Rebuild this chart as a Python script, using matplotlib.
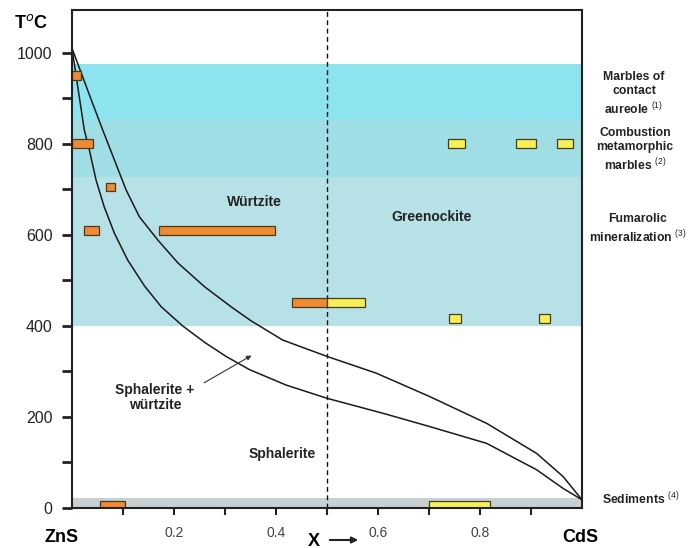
import matplotlib
matplotlib.use("Agg")
import matplotlib.pyplot as plt

plt.rcParams["font.family"] = ["Liberation Sans", "DejaVu Sans"]
plt.rcParams["mathtext.fontset"] = "custom"
plt.rcParams["mathtext.rm"] = "Liberation Sans"

# phase boundaries (X = CdS fraction, T in deg C)
upper_x = [0.0, 0.02, 0.04, 0.06, 0.083, 0.106, 0.132, 0.168, 0.208, 0.26, 0.312, 0.35,
           0.413, 0.5, 0.597, 0.701, 0.813, 0.911, 0.963, 1.0]
upper_t = [1010, 950, 890, 831, 765, 699, 640, 589, 538, 486, 442, 412,
           369, 333, 296, 245, 186, 120, 69, 18]
lower_x = [0.0, 0.01, 0.024, 0.034, 0.047, 0.063, 0.083, 0.109, 0.142, 0.175, 0.217, 0.26,
           0.302, 0.348, 0.42, 0.5, 0.61, 0.701, 0.813, 0.911, 0.963, 1.0]
lower_t = [1010, 935, 831, 787, 721, 662, 604, 545, 488, 442, 400, 364,
           333, 304, 270, 241, 208, 179, 142, 84, 43, 18]

# occurrence bands (T ranges)
band_names = ["contact", "combustion", "fumarolic", "sediments"]
band_lo = [853, 727, 400, 0]
band_hi = [975, 853, 727, 22]

# measured compositions: ZnS-rich (orange) and CdS-rich (yellow)
orange_x0 = [0.0, 0.0, 0.066, 0.024, 0.171, 0.432, 0.054]
orange_x1 = [0.017, 0.042, 0.084, 0.052, 0.399, 0.5, 0.104]
orange_lo = [940, 790, 697, 600, 600, 442, 0]
orange_hi = [960, 810, 715, 620, 620, 462, 16]

yellow_x0 = [0.5, 0.737, 0.87, 0.95, 0.739, 0.916, 0.70]
yellow_x1 = [0.574, 0.771, 0.91, 0.982, 0.762, 0.937, 0.82]
yellow_lo = [442, 790, 790, 790, 406, 406, 0]
yellow_hi = [462, 810, 810, 810, 426, 426, 16]

ytick_vals = [0, 200, 400, 600, 800, 1000]
xtick_vals = [0.2, 0.4, 0.6, 0.8]

W, H = 688, 548


def fx(px):
    return px / W


def fy(py):
    return 1 - py / H


fig = plt.figure(figsize=(6.88, 5.48), dpi=100)
ax = fig.add_axes([fx(72), fy(508), fx(582) - fx(72), fy(10) - fy(508)])
ax.set_xlim(0, 1)
ax.set_ylim(0, 1094)

band_colors = ["#8ee4ee", "#a0dee6", "#b6e1e6", "#c9d0d1"]
for lo, hi, c in zip(band_lo, band_hi, band_colors):
    ax.axhspan(lo, hi, color=c, lw=0, zorder=0)

ax.axvline(0.5, color="#111111", lw=1.0, ls=(0, (3.5, 2.5)), zorder=2)

ax.plot(upper_x, upper_t, color="#1a1a1a", lw=1.1, zorder=3)
ax.plot(lower_x, lower_t, color="#1a1a1a", lw=1.1, zorder=3)

for x0s, x1s, los, his, col in [
    (orange_x0, orange_x1, orange_lo, orange_hi, "#f08a30"),
    (yellow_x0, yellow_x1, yellow_lo, yellow_hi, "#f6f055"),
]:
    widths = [b - a for a, b in zip(x0s, x1s)]
    heights = [b - a for a, b in zip(los, his)]
    ax.bar(x0s, heights, width=widths, bottom=los, align="edge",
           color=col, edgecolor="#4a3a20", linewidth=0.9, zorder=4)

# axes styling
for s in ax.spines.values():
    s.set_linewidth(1.5)
    s.set_color("#222222")
    s.set_zorder(6)

ax.set_yticks(range(0, 1001, 100))
ax.set_yticklabels([str(v) if v in ytick_vals else "" for v in range(0, 1001, 100)])
ax.tick_params(axis="y", length=7, width=2, pad=7, labelsize=11.5, colors="#222222")
xt = [0.1 * i for i in range(1, 10)]
ax.set_xticks(xt)
ax.set_xticklabels([f"{v:.1f}" if any(abs(v - t) < 1e-6 for t in xtick_vals) else "" for v in xt])
ax.tick_params(axis="x", length=5, width=1.5, pad=8, labelsize=10, labelcolor="#444444", color="#222222")

# phase labels
txt = dict(fontweight="bold", color="#222222", ha="center", va="center", zorder=5)
ax.text(0.358, 672, "Würtzite", fontsize=10, **txt)
ax.text(0.705, 640, "Greenockite", fontsize=10, **txt)
ax.text(0.163, 242, "Sphalerite +\nwürtzite", fontsize=10, linespacing=1.1, **txt)
ax.text(0.412, 119, "Sphalerite", fontsize=10, **txt)
ax.annotate("", xy=(0.352, 335), xytext=(0.259, 275),
            arrowprops=dict(arrowstyle="-|>", color="#333333", lw=0.8,
                            mutation_scale=7, shrinkA=0, shrinkB=0), zorder=5)

# occurrence labels on the right
rtxt = dict(fontweight="bold", color="#222222", ha="center", va="center",
            multialignment="center", fontsize=8.8, linespacing=1.25)
fig.text(fx(634), fy(94), "Marbles of\ncontact\naureole $^{(1)}$", **rtxt)
fig.text(fx(635), fy(150), "Combustion\nmetamorphic\nmarbles $^{(2)}$", **rtxt)
fig.text(fx(638), fy(229), "Fumarolic\nmineralization $^{(3)}$", **rtxt)
fig.text(fx(602), fy(499), "Sediments $^{(4)}$", fontweight="bold", color="#222222",
         ha="left", va="center", fontsize=8.8)

# corner labels
fig.text(fx(31), fy(23), "T$^{o}$C", fontsize=13, fontweight="bold", ha="center", va="center")
fig.text(fx(62), fy(538), "ZnS", fontsize=13, fontweight="bold", ha="center", va="center")
fig.text(fx(580), fy(538), "CdS", fontsize=13, fontweight="bold", ha="center", va="center")
fig.text(fx(314), fy(541), "X", fontsize=13, fontweight="bold", ha="center", va="center")
fig.patches.append(matplotlib.patches.FancyArrowPatch(
    (fx(327), fy(540)), (fx(361), fy(540)), transform=fig.transFigure,
    arrowstyle="-|>", mutation_scale=9, color="#222222", lw=1.5))

fig.savefig("out.png", dpi=100)
